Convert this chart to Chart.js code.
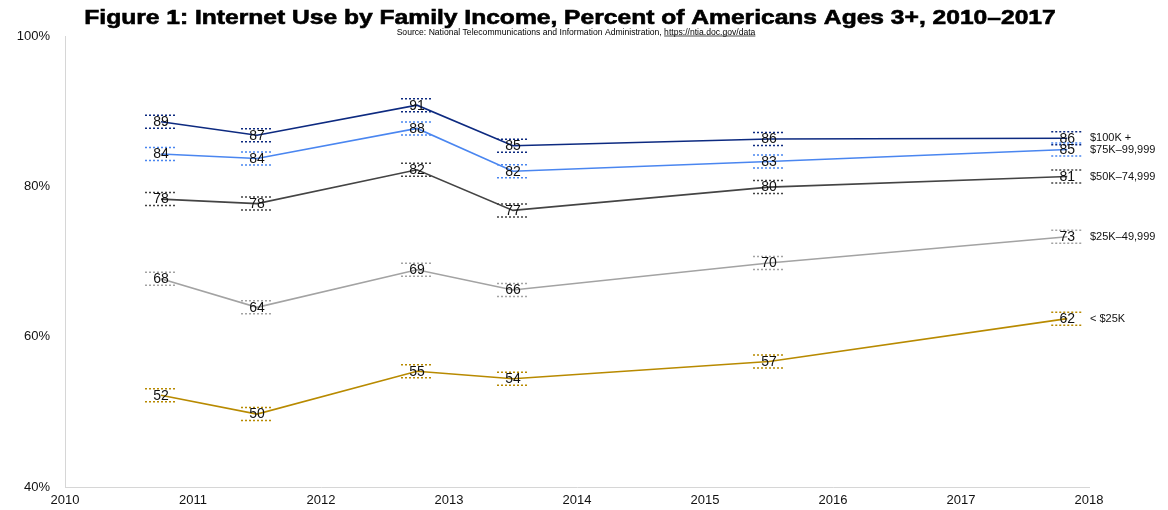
<!DOCTYPE html>
<html>
<head>
<meta charset="utf-8">
<script src="https://cdn.jsdelivr.net/npm/chart.js@4/dist/chart.umd.min.js"></script>
<style>
  html, body { margin: 0; padding: 0; background: #fff; }
  #wrap { width: 1168px; height: 510px; position: relative; }
</style>
</head>
<body>
<div id="wrap"><canvas id="c" width="1168" height="510"></canvas></div>
<script>
// Survey dates (decimal years)
const dates = [2010.75, 2011.5, 2012.75, 2013.5, 2015.5, 2017.83];
// Percent of Americans ages 3+ using the Internet, by family income
const inc100 = [88.6, 86.8, 90.8, 85.4, 86.3, 86.4];
const inc75  = [84.3, 83.7, 87.7, 82.0, 83.3, 84.9];
const inc50  = [78.3, 77.7, 82.2, 76.8, 79.9, 81.3];
const inc25  = [67.7, 63.9, 68.9, 66.2, 69.8, 73.3];
const incLow = [52.2, 49.7, 55.4, 54.4, 56.7, 62.4];
const seriesNames = ['$100K +', '$75K\u201399,999', '$50K\u201374,999', '$25K\u201349,999', '< $25K'];
const seriesColors = ['#0d2a80', '#4a86f0', '#444444', '#a3a3a3', '#b88a00'];
const yTicks = [40, 60, 80, 100];
const xTicks = [2010, 2011, 2012, 2013, 2014, 2015, 2016, 2017, 2018];

const titleText = 'Figure 1: Internet Use by Family Income, Percent of Americans Ages 3+, 2010\u20132017';
const sourceText = 'Source: National Telecommunications and Information Administration, ';
const sourceUrl = 'https://ntia.doc.gov/data';

const allSeries = [inc100, inc75, inc50, inc25, incLow];

const datasets = allSeries.map((vals, i) => ({
  label: seriesNames[i],
  data: dates.map((d, j) => ({ x: d, y: vals[j] })),
  borderColor: seriesColors[i],
  backgroundColor: seriesColors[i],
  borderWidth: 1.6,
  pointRadius: 0,
  tension: 0,
  fill: false
}));

const FONT = '"Liberation Sans", Arial, Helvetica, sans-serif';

const labelPlugin = {
  id: 'labelPlugin',
  afterDatasetsDraw(chart) {
    const ctx = chart.ctx;
    const xs = chart.scales.x, ys = chart.scales.y;
    ctx.save();
    chart.data.datasets.forEach((ds, i) => {
      ds.data.forEach((p, j) => {
        const px = xs.getPixelForValue(p.x);
        const py = ys.getPixelForValue(p.y);
        ctx.strokeStyle = ds.borderColor;
        ctx.lineWidth = 1.5;
        ctx.setLineDash([2, 2]);
        ctx.beginPath();
        ctx.moveTo(px - 16, py - 6.5); ctx.lineTo(px + 16, py - 6.5);
        ctx.moveTo(px - 16, py + 6.5); ctx.lineTo(px + 16, py + 6.5);
        ctx.stroke();
        ctx.setLineDash([]);
        ctx.fillStyle = '#111';
        ctx.font = '14px ' + FONT;
        ctx.textAlign = 'center';
        ctx.textBaseline = 'middle';
        ctx.fillText(String(Math.round(p.y)), px, py + 0.5);
      });
      const last = ds.data[ds.data.length - 1];
      const ly = ys.getPixelForValue(last.y);
      ctx.fillStyle = '#111';
      ctx.font = '11px ' + FONT;
      ctx.textAlign = 'left';
      ctx.textBaseline = 'middle';
      ctx.fillText(ds.label, chart.chartArea.right + 1, ly);
    });
    ctx.restore();
  },
  afterDraw(chart) {
    const ctx = chart.ctx;
    ctx.save();
    ctx.fillStyle = '#000';
    ctx.strokeStyle = '#000';
    ctx.textBaseline = 'middle';
    ctx.textAlign = 'left';
    ctx.font = 'bold 20px ' + FONT;
    const sx = 1.23;
    const tw = ctx.measureText(titleText).width * sx;
    ctx.save();
    ctx.translate(570 - tw / 2, 18);
    ctx.scale(sx, 1);
    ctx.lineWidth = 0.6;
    ctx.fillText(titleText, 0, 0);
    ctx.strokeText(titleText, 0, 0);
    ctx.restore();
    ctx.font = '8.6px ' + FONT;
    const w1 = ctx.measureText(sourceText).width;
    const w2 = ctx.measureText(sourceUrl).width;
    const x0 = 576 - (w1 + w2) / 2;
    ctx.fillText(sourceText, x0, 32.5);
    ctx.fillText(sourceUrl, x0 + w1, 32.5);
    ctx.lineWidth = 0.7;
    ctx.beginPath();
    ctx.moveTo(x0 + w1, 36); ctx.lineTo(x0 + w1 + w2, 36);
    ctx.stroke();
    ctx.restore();
  }
};

new Chart(document.getElementById('c'), {
  type: 'line',
  data: { datasets },
  options: {
    responsive: false,
    animation: false,
    layout: { padding: { top: 36, right: 79, left: 0, bottom: 0 } },
    plugins: { legend: { display: false }, tooltip: { enabled: false }, title: { display: false } },
    scales: {
      x: {
        type: 'linear',
        min: 2010, max: 2018,
        afterBuildTicks(scale) { scale.ticks = xTicks.map(v => ({ value: v })); },
        afterFit(scale) { scale.height = 23; },
        grid: { display: false, drawTicks: false },
        border: { display: true, color: '#d6d6d6', width: 1 },
        ticks: {
          callback: v => String(v),
          color: '#111',
          font: { family: FONT, size: 13 },
          padding: 6,
          maxRotation: 0,
          autoSkip: false
        }
      },
      y: {
        min: 40, max: 100,
        afterBuildTicks(scale) { scale.ticks = yTicks.map(v => ({ value: v })); },
        afterFit(scale) { scale.width = 65; },
        grid: { display: false, drawTicks: false },
        border: { display: true, color: '#d6d6d6', width: 1 },
        ticks: {
          callback: v => v + '%',
          color: '#111',
          font: { family: FONT, size: 13 },
          padding: 15
        }
      }
    }
  },
  plugins: [labelPlugin]
});
</script>
</body>
</html>
